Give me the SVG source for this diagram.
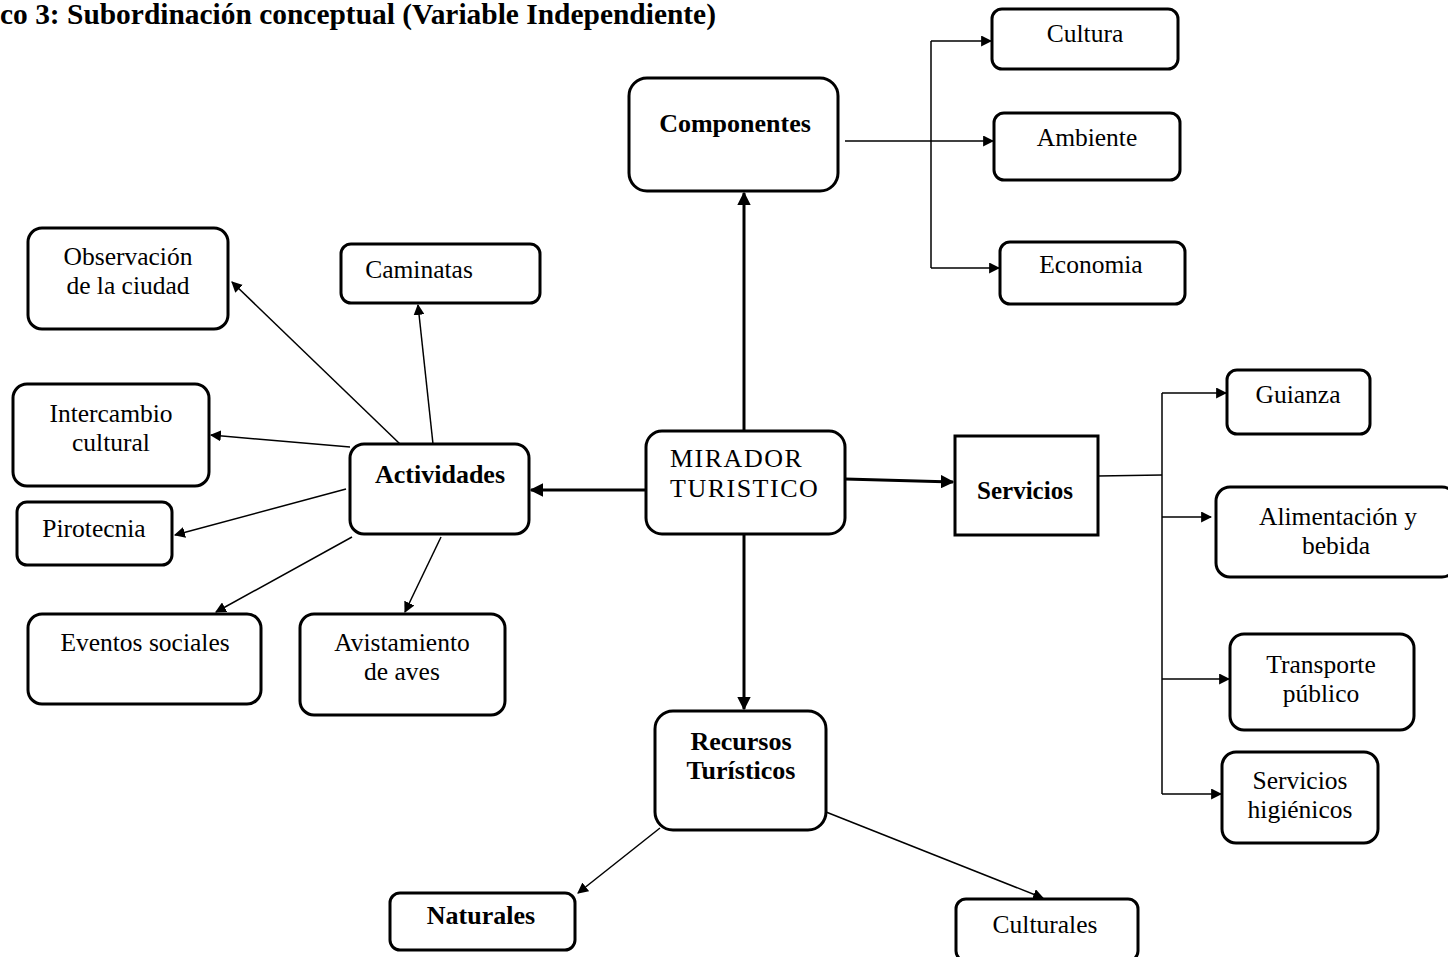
<svg xmlns="http://www.w3.org/2000/svg" width="1448" height="957" viewBox="0 0 1448 957">
<defs>
<style>
.box{fill:#fff;stroke:#000;stroke-width:3}
.t{font-family:"Liberation Serif","Times New Roman",serif;font-size:25.5px;fill:#000;text-anchor:middle}
.b{font-weight:bold;font-size:26px}
.m{text-anchor:start;font-size:26px;letter-spacing:1.5px}
.l{fill:none;stroke:#000;stroke-width:1.5}
.k{fill:none;stroke:#000;stroke-width:3}
</style>
<marker id="a" viewBox="0 0 10 10" refX="9" refY="5" markerWidth="11" markerHeight="11" markerUnits="userSpaceOnUse" orient="auto"><path d="M0,0L10,5L0,10z" fill="#000"/></marker>
<marker id="ak" viewBox="0 0 10 10" refX="9" refY="5" markerWidth="4.5" markerHeight="4.5" orient="auto"><path d="M0,0L10,5L0,10z" fill="#000"/></marker>
</defs>
<rect width="1448" height="957" fill="#fff"/>
<text x="0" y="24" textLength="716" lengthAdjust="spacingAndGlyphs" style="font-family:'Liberation Serif','Times New Roman',serif;font-size:29px;font-weight:bold">co 3: Subordinación conceptual (Variable Independiente)</text>

<g id="connectors">
<line class="k" x1="744" y1="431" x2="744" y2="193" marker-end="url(#ak)"/>
<line class="k" x1="744" y1="534" x2="744" y2="709" marker-end="url(#ak)"/>
<line class="k" x1="646" y1="490" x2="531" y2="490" marker-end="url(#ak)"/>
<line class="k" x1="845" y1="479" x2="953" y2="482" marker-end="url(#ak)"/>
<line class="l" x1="845" y1="141" x2="993" y2="141" marker-end="url(#a)"/>
<line class="l" x1="931" y1="41" x2="931" y2="268"/>
<line class="l" x1="931" y1="41" x2="991" y2="41" marker-end="url(#a)"/>
<line class="l" x1="931" y1="268" x2="999" y2="268" marker-end="url(#a)"/>
<line class="l" x1="1098" y1="476" x2="1162" y2="475"/>
<line class="l" x1="1162" y1="393" x2="1162" y2="794"/>
<line class="l" x1="1162" y1="393" x2="1226" y2="393" marker-end="url(#a)"/>
<line class="l" x1="1162" y1="517" x2="1211" y2="517" marker-end="url(#a)"/>
<line class="l" x1="1162" y1="679" x2="1229" y2="679" marker-end="url(#a)"/>
<line class="l" x1="1162" y1="794" x2="1221" y2="794" marker-end="url(#a)"/>
<line class="l" x1="400" y1="444" x2="232" y2="282" marker-end="url(#a)"/>
<line class="l" x1="433" y1="444" x2="418" y2="305" marker-end="url(#a)"/>
<line class="l" x1="350" y1="447" x2="211" y2="435" marker-end="url(#a)"/>
<line class="l" x1="346" y1="489" x2="175" y2="535" marker-end="url(#a)"/>
<line class="l" x1="352" y1="537" x2="216" y2="612" marker-end="url(#a)"/>
<line class="l" x1="441" y1="537" x2="405" y2="612" marker-end="url(#a)"/>
<line class="l" x1="660" y1="828" x2="578" y2="893" marker-end="url(#a)"/>
<line class="l" x1="826" y1="812" x2="1043" y2="898" marker-end="url(#a)"/>
</g>

<g id="componentes"><rect class="box" x="629" y="78" width="209" height="113" rx="18"/><text class="t b" x="735" y="132">Componentes</text></g>
<g id="cultura"><rect class="box" x="992" y="9" width="186" height="60" rx="10"/><text class="t" x="1085" y="42">Cultura</text></g>
<g id="ambiente"><rect class="box" x="994" y="113" width="186" height="67" rx="10"/><text class="t" x="1087" y="146">Ambiente</text></g>
<g id="economia"><rect class="box" x="1000" y="242" width="185" height="62" rx="10"/><text class="t" x="1091" y="273">Economia</text></g>
<g id="mirador"><rect class="box" x="646" y="431" width="199" height="103" rx="16"/><text class="t m" x="670" y="467">MIRADOR</text><text class="t m" x="670" y="497">TURISTICO</text></g>
<g id="servicios"><rect class="box" x="955" y="436" width="143" height="99"/><text class="t" x="1025" y="499" style="font-weight:bold;font-size:25px">Servicios</text></g>
<g id="actividades"><rect class="box" x="350" y="444" width="179" height="90" rx="14"/><text class="t b" x="440" y="483">Actividades</text></g>
<g id="observacion"><rect class="box" x="28" y="228" width="200" height="101" rx="14"/><text class="t" x="128" y="265">Observación</text><text class="t" x="128" y="294">de la ciudad</text></g>
<g id="caminatas"><rect class="box" x="341" y="244" width="199" height="59" rx="10"/><text class="t" x="419" y="278">Caminatas</text></g>
<g id="intercambio"><rect class="box" x="13" y="384" width="196" height="102" rx="14"/><text class="t" x="111" y="422">Intercambio</text><text class="t" x="111" y="451">cultural</text></g>
<g id="pirotecnia"><rect class="box" x="17" y="502" width="155" height="63" rx="10"/><text class="t" x="94" y="537">Pirotecnia</text></g>
<g id="eventos"><rect class="box" x="28" y="614" width="233" height="90" rx="14"/><text class="t" x="145" y="651">Eventos sociales</text></g>
<g id="avistamiento"><rect class="box" x="300" y="614" width="205" height="101" rx="14"/><text class="t" x="402" y="651">Avistamiento</text><text class="t" x="402" y="680">de aves</text></g>
<g id="recursos"><rect class="box" x="655" y="711" width="171" height="119" rx="18"/><text class="t b" x="741" y="750">Recursos</text><text class="t b" x="741" y="779">Turísticos</text></g>
<g id="naturales"><rect class="box" x="390" y="893" width="185" height="57" rx="10"/><text class="t b" x="481" y="924">Naturales</text></g>
<g id="culturales"><rect class="box" x="956" y="899" width="182" height="62" rx="10"/><text class="t" x="1045" y="933">Culturales</text></g>
<g id="guianza"><rect class="box" x="1227" y="370" width="143" height="64" rx="10"/><text class="t" x="1298" y="403">Guianza</text></g>
<g id="alimentacion"><rect class="box" x="1216" y="487" width="240" height="90" rx="14"/><text class="t" x="1338" y="525">Alimentación y</text><text class="t" x="1336" y="554">bebida</text></g>
<g id="transporte"><rect class="box" x="1230" y="634" width="184" height="96" rx="14"/><text class="t" x="1321" y="673">Transporte</text><text class="t" x="1321" y="702">público</text></g>
<g id="higienicos"><rect class="box" x="1222" y="752" width="156" height="91" rx="14"/><text class="t" x="1300" y="789">Servicios</text><text class="t" x="1300" y="818">higiénicos</text></g>
</svg>
